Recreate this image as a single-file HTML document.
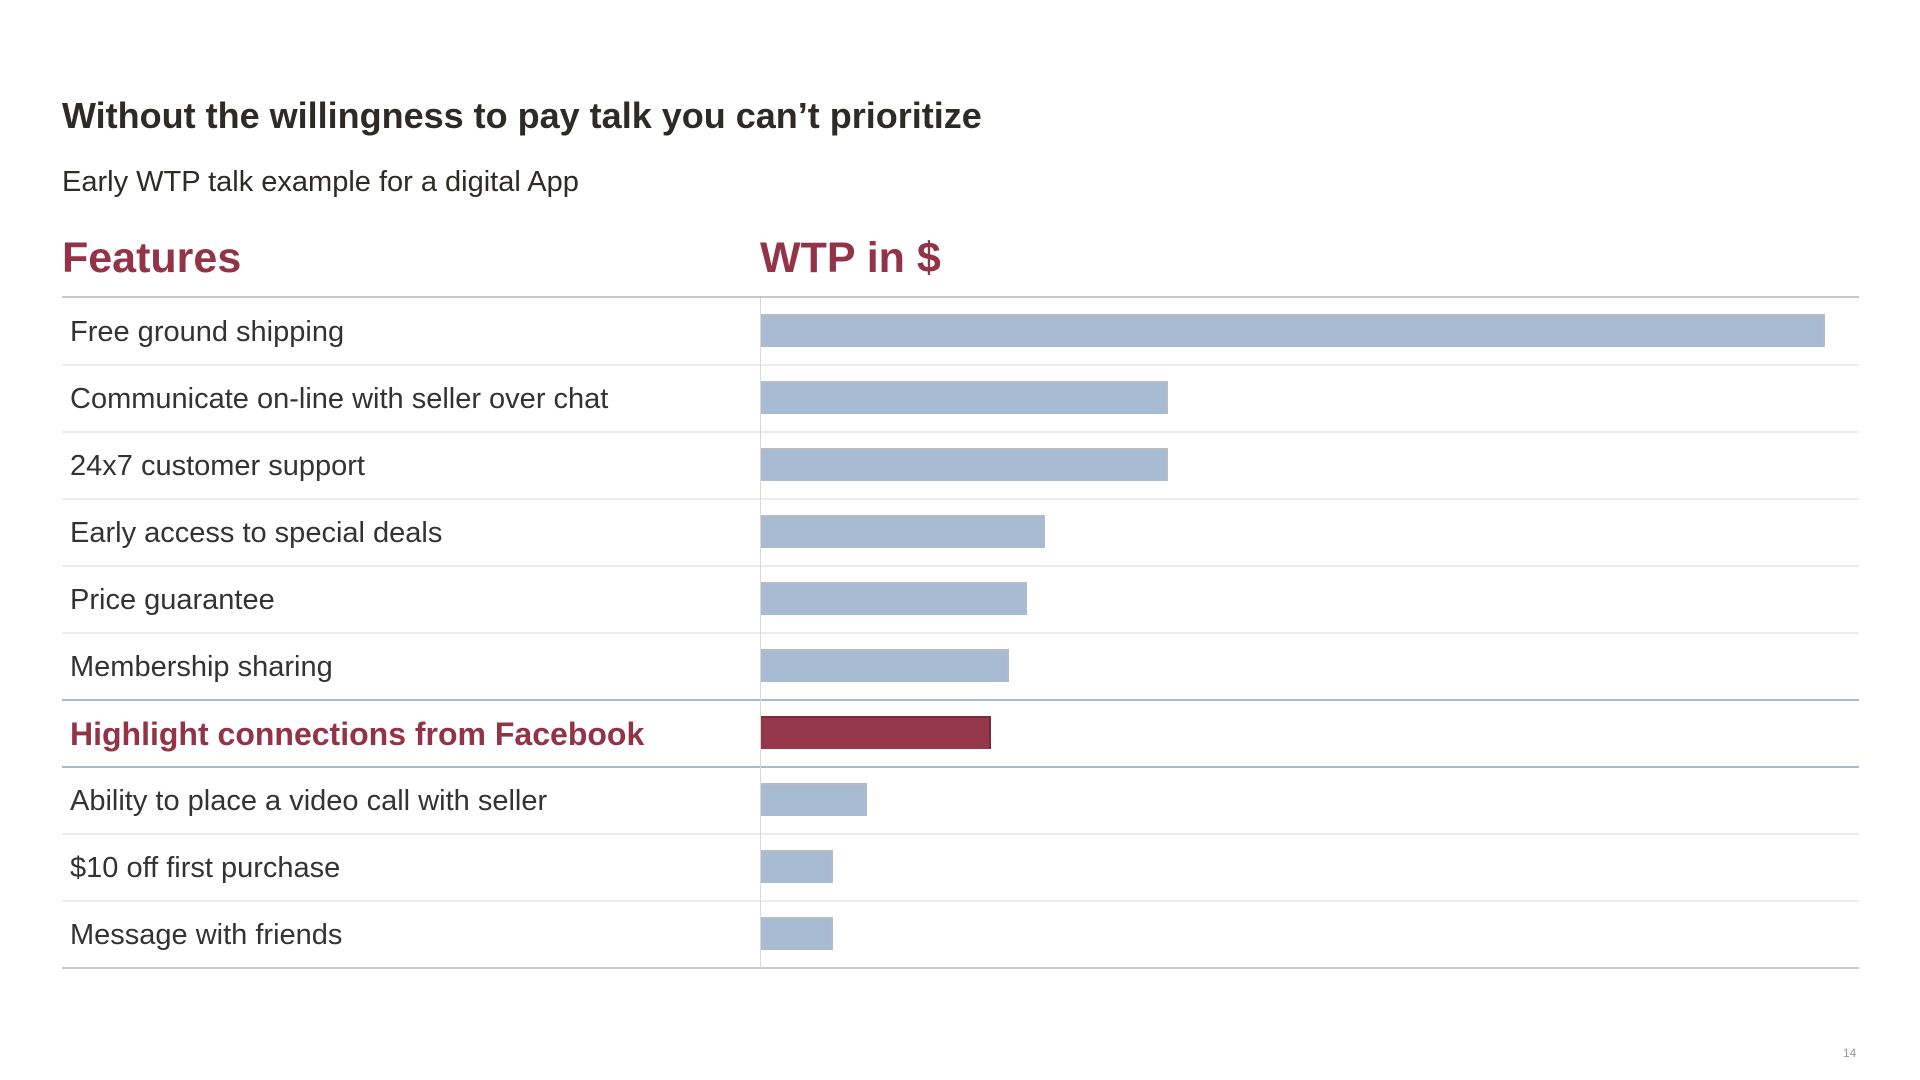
<!DOCTYPE html>
<html><head><meta charset="utf-8"><style>
body{margin:0;width:1920px;height:1080px;background:#fff;font-family:"Liberation Sans",Arial,sans-serif;position:relative;overflow:hidden;color:#333}
.a{position:absolute;white-space:nowrap}
.line{position:absolute;left:62px;width:1797px;height:2px;background:#d4d4d4}
.lbl{position:absolute;left:70px;font-size:29px;color:#333;line-height:67px;white-space:nowrap}
.bar{position:absolute;left:761px;height:33px;background:#a7bbd2;border-top:2px solid #b8bcc2;box-sizing:border-box;border-right:2px solid #b0bccb}
</style></head><body>
<div class="a" style="left:62px;top:95px;font-size:36px;font-weight:bold;color:#2e2a25">Without the willingness to pay talk you can’t prioritize</div>
<div class="a" style="left:62px;top:166px;font-size:29px;color:#2e2a25">Early WTP talk example for a digital App</div>
<div class="a" style="left:62px;top:234px;font-size:43px;font-weight:bold;color:#933348">Features</div>
<div class="a" style="left:760px;top:234px;font-size:43px;font-weight:bold;color:#933348">WTP in $</div>
<div class="line" style="top:296px;height:2px;background:#c8c8c8"></div>
<div class="line" style="top:364px;background:#ececec"></div>
<div class="line" style="top:431px;background:#ececec"></div>
<div class="line" style="top:498px;background:#ececec"></div>
<div class="line" style="top:565px;background:#ececec"></div>
<div class="line" style="top:632px;background:#ececec"></div>
<div class="line" style="top:699px;background:#a7bbd2"></div>
<div class="line" style="top:766px;background:#a7bbd2"></div>
<div class="line" style="top:833px;background:#ececec"></div>
<div class="line" style="top:900px;background:#ececec"></div>
<div class="line" style="top:967px;background:#c8c8c8"></div>
<div style="position:absolute;left:760px;top:298px;width:1px;height:670px;background:#d8d8d8"></div>
<div class="lbl" style="top:299px">Free ground shipping</div>
<div class="lbl" style="top:366px">Communicate on-line with seller over chat</div>
<div class="lbl" style="top:433px">24x7 customer support</div>
<div class="lbl" style="top:500px">Early access to special deals</div>
<div class="lbl" style="top:567px">Price guarantee</div>
<div class="lbl" style="top:634px">Membership sharing</div>
<div class="lbl" style="top:701px;font-weight:bold;color:#933348;font-size:32px">Highlight connections from Facebook</div>
<div class="lbl" style="top:768px">Ability to place a video call with seller</div>
<div class="lbl" style="top:835px">$10 off first purchase</div>
<div class="lbl" style="top:902px">Message with friends</div>
<div class="bar" style="top:314px;width:1064px"></div>
<div class="bar" style="top:381px;width:407px"></div>
<div class="bar" style="top:448px;width:407px"></div>
<div class="bar" style="top:515px;width:284px"></div>
<div class="bar" style="top:582px;width:266px"></div>
<div class="bar" style="top:649px;width:248px"></div>
<div class="bar" style="top:716px;width:230px;background:#96364b;border-color:#7a2a3b"></div>
<div class="bar" style="top:783px;width:106px"></div>
<div class="bar" style="top:850px;width:72px"></div>
<div class="bar" style="top:917px;width:72px"></div>
<div class="a" style="left:1843px;top:1046px;font-size:12px;color:#999">14</div>
</body></html>
